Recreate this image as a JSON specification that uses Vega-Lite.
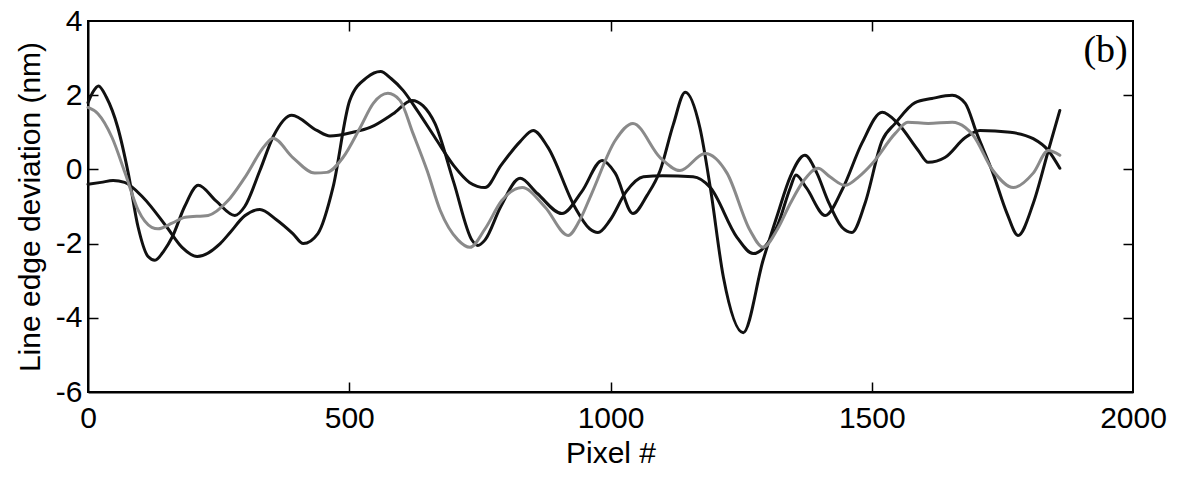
{
  "$schema": "https://vega.github.io/schema/vega-lite/v6.json",
  "width": 1045,
  "height": 371,
  "autosize": "none",
  "padding": {"left": 88, "top": 21, "right": 47, "bottom": 86},
  "background": "white",
  "config": {
    "view": {"stroke": "black", "strokeWidth": 2},
    "font": "Liberation Sans",
    "axis": {
      "grid": false,
      "domainColor": "black",
      "domainWidth": 2,
      "tickColor": "black",
      "tickWidth": 1.5,
      "tickSize": 10,
      "labelFont": "Liberation Sans",
      "labelFontSize": 30,
      "labelColor": "black",
      "titleFont": "Liberation Sans",
      "titleFontSize": 30,
      "titleFontWeight": "normal",
      "titleColor": "black"
    }
  },
  "datasets": {
    "curves": [
      {"pixel": 0, "dev": 1.8, "s": "P"},
      {"pixel": 10, "dev": 2.1, "s": "P"},
      {"pixel": 20, "dev": 2.25, "s": "P"},
      {"pixel": 35, "dev": 1.95, "s": "P"},
      {"pixel": 57, "dev": 1.13, "s": "P"},
      {"pixel": 77, "dev": -0.1, "s": "P"},
      {"pixel": 96, "dev": -1.56, "s": "P"},
      {"pixel": 115, "dev": -2.35, "s": "P"},
      {"pixel": 128, "dev": -2.45, "s": "P"},
      {"pixel": 145, "dev": -2.2, "s": "P"},
      {"pixel": 161, "dev": -1.83, "s": "P"},
      {"pixel": 185, "dev": -1.0, "s": "P"},
      {"pixel": 211, "dev": -0.43, "s": "P"},
      {"pixel": 245, "dev": -0.85, "s": "P"},
      {"pixel": 281, "dev": -1.24, "s": "P"},
      {"pixel": 300, "dev": -1.0, "s": "P"},
      {"pixel": 329, "dev": -0.03, "s": "P"},
      {"pixel": 355, "dev": 0.9, "s": "P"},
      {"pixel": 390, "dev": 1.46, "s": "P"},
      {"pixel": 438, "dev": 1.05, "s": "P"},
      {"pixel": 463, "dev": 0.9, "s": "P"},
      {"pixel": 507, "dev": 1.0, "s": "P"},
      {"pixel": 540, "dev": 1.13, "s": "P"},
      {"pixel": 584, "dev": 1.5, "s": "P"},
      {"pixel": 620, "dev": 1.86, "s": "P"},
      {"pixel": 641, "dev": 1.72, "s": "P"},
      {"pixel": 664, "dev": 1.24, "s": "P"},
      {"pixel": 700, "dev": -0.35, "s": "P"},
      {"pixel": 735, "dev": -1.91, "s": "P"},
      {"pixel": 746, "dev": -2.05, "s": "P"},
      {"pixel": 760, "dev": -1.9, "s": "P"},
      {"pixel": 790, "dev": -1.0, "s": "P"},
      {"pixel": 827, "dev": -0.24, "s": "P"},
      {"pixel": 860, "dev": -0.65, "s": "P"},
      {"pixel": 907, "dev": -1.19, "s": "P"},
      {"pixel": 945, "dev": -0.6, "s": "P"},
      {"pixel": 984, "dev": 0.24, "s": "P"},
      {"pixel": 1009, "dev": -0.1, "s": "P"},
      {"pixel": 1043, "dev": -1.19, "s": "P"},
      {"pixel": 1070, "dev": -0.7, "s": "P"},
      {"pixel": 1095, "dev": -0.03, "s": "P"},
      {"pixel": 1120, "dev": 1.2, "s": "P"},
      {"pixel": 1143, "dev": 2.08, "s": "P"},
      {"pixel": 1171, "dev": 1.13, "s": "P"},
      {"pixel": 1191, "dev": -0.49, "s": "P"},
      {"pixel": 1216, "dev": -2.9, "s": "P"},
      {"pixel": 1254, "dev": -4.4, "s": "P"},
      {"pixel": 1292, "dev": -2.45, "s": "P"},
      {"pixel": 1320, "dev": -1.2, "s": "P"},
      {"pixel": 1344, "dev": -0.2, "s": "P"},
      {"pixel": 1372, "dev": 0.38, "s": "P"},
      {"pixel": 1395, "dev": -0.1, "s": "P"},
      {"pixel": 1416, "dev": -0.84, "s": "P"},
      {"pixel": 1443, "dev": -1.56, "s": "P"},
      {"pixel": 1462, "dev": -1.7, "s": "P"},
      {"pixel": 1487, "dev": -0.92, "s": "P"},
      {"pixel": 1520, "dev": 0.78, "s": "P"},
      {"pixel": 1545, "dev": 1.24, "s": "P"},
      {"pixel": 1583, "dev": 1.8, "s": "P"},
      {"pixel": 1615, "dev": 1.91, "s": "P"},
      {"pixel": 1654, "dev": 2.0, "s": "P"},
      {"pixel": 1679, "dev": 1.78, "s": "P"},
      {"pixel": 1701, "dev": 0.97, "s": "P"},
      {"pixel": 1732, "dev": -0.1, "s": "P"},
      {"pixel": 1759, "dev": -1.19, "s": "P"},
      {"pixel": 1780, "dev": -1.78, "s": "P"},
      {"pixel": 1809, "dev": -0.92, "s": "P"},
      {"pixel": 1838, "dev": 0.51, "s": "P"},
      {"pixel": 1860, "dev": 1.59, "s": "P"},

      {"pixel": 0, "dev": -0.4, "s": "Q"},
      {"pixel": 25, "dev": -0.35, "s": "Q"},
      {"pixel": 48, "dev": -0.3, "s": "Q"},
      {"pixel": 70, "dev": -0.35, "s": "Q"},
      {"pixel": 105, "dev": -0.75, "s": "Q"},
      {"pixel": 151, "dev": -1.56, "s": "Q"},
      {"pixel": 180, "dev": -2.1, "s": "Q"},
      {"pixel": 209, "dev": -2.35, "s": "Q"},
      {"pixel": 253, "dev": -2.0, "s": "Q"},
      {"pixel": 272, "dev": -1.7, "s": "Q"},
      {"pixel": 300, "dev": -1.25, "s": "Q"},
      {"pixel": 329, "dev": -1.08, "s": "Q"},
      {"pixel": 360, "dev": -1.35, "s": "Q"},
      {"pixel": 392, "dev": -1.73, "s": "Q"},
      {"pixel": 412, "dev": -2.0, "s": "Q"},
      {"pixel": 440, "dev": -1.73, "s": "Q"},
      {"pixel": 469, "dev": -0.48, "s": "Q"},
      {"pixel": 501, "dev": 1.86, "s": "Q"},
      {"pixel": 534, "dev": 2.48, "s": "Q"},
      {"pixel": 560, "dev": 2.64, "s": "Q"},
      {"pixel": 580, "dev": 2.45, "s": "Q"},
      {"pixel": 603, "dev": 2.13, "s": "Q"},
      {"pixel": 630, "dev": 1.59, "s": "Q"},
      {"pixel": 664, "dev": 0.86, "s": "Q"},
      {"pixel": 700, "dev": 0.1, "s": "Q"},
      {"pixel": 730, "dev": -0.35, "s": "Q"},
      {"pixel": 760, "dev": -0.49, "s": "Q"},
      {"pixel": 790, "dev": 0.1, "s": "Q"},
      {"pixel": 827, "dev": 0.75, "s": "Q"},
      {"pixel": 852, "dev": 1.05, "s": "Q"},
      {"pixel": 880, "dev": 0.6, "s": "Q"},
      {"pixel": 932, "dev": -1.02, "s": "Q"},
      {"pixel": 960, "dev": -1.6, "s": "Q"},
      {"pixel": 976, "dev": -1.7, "s": "Q"},
      {"pixel": 999, "dev": -1.37, "s": "Q"},
      {"pixel": 1030, "dev": -0.6, "s": "Q"},
      {"pixel": 1063, "dev": -0.2, "s": "Q"},
      {"pixel": 1100, "dev": -0.17, "s": "Q"},
      {"pixel": 1158, "dev": -0.2, "s": "Q"},
      {"pixel": 1191, "dev": -0.49, "s": "Q"},
      {"pixel": 1242, "dev": -1.83, "s": "Q"},
      {"pixel": 1273, "dev": -2.27, "s": "Q"},
      {"pixel": 1300, "dev": -2.0, "s": "Q"},
      {"pixel": 1320, "dev": -1.5, "s": "Q"},
      {"pixel": 1344, "dev": -0.5, "s": "Q"},
      {"pixel": 1355, "dev": -0.15, "s": "Q"},
      {"pixel": 1375, "dev": -0.5, "s": "Q"},
      {"pixel": 1411, "dev": -1.24, "s": "Q"},
      {"pixel": 1445, "dev": -0.5, "s": "Q"},
      {"pixel": 1481, "dev": 0.7, "s": "Q"},
      {"pixel": 1520, "dev": 1.54, "s": "Q"},
      {"pixel": 1550, "dev": 1.24, "s": "Q"},
      {"pixel": 1589, "dev": 0.51, "s": "Q"},
      {"pixel": 1608, "dev": 0.19, "s": "Q"},
      {"pixel": 1640, "dev": 0.32, "s": "Q"},
      {"pixel": 1679, "dev": 0.86, "s": "Q"},
      {"pixel": 1707, "dev": 1.05, "s": "Q"},
      {"pixel": 1765, "dev": 1.0, "s": "Q"},
      {"pixel": 1809, "dev": 0.83, "s": "Q"},
      {"pixel": 1838, "dev": 0.51, "s": "Q"},
      {"pixel": 1860, "dev": 0.03, "s": "Q"},

      {"pixel": 0, "dev": 1.67, "s": "G"},
      {"pixel": 19, "dev": 1.5, "s": "G"},
      {"pixel": 46, "dev": 0.86, "s": "G"},
      {"pixel": 71, "dev": -0.1, "s": "G"},
      {"pixel": 96, "dev": -1.1, "s": "G"},
      {"pixel": 122, "dev": -1.56, "s": "G"},
      {"pixel": 134, "dev": -1.6, "s": "G"},
      {"pixel": 161, "dev": -1.45, "s": "G"},
      {"pixel": 186, "dev": -1.29, "s": "G"},
      {"pixel": 230, "dev": -1.24, "s": "G"},
      {"pixel": 268, "dev": -0.84, "s": "G"},
      {"pixel": 300, "dev": -0.22, "s": "G"},
      {"pixel": 339, "dev": 0.65, "s": "G"},
      {"pixel": 354, "dev": 0.84, "s": "G"},
      {"pixel": 392, "dev": 0.32, "s": "G"},
      {"pixel": 434, "dev": -0.1, "s": "G"},
      {"pixel": 457, "dev": -0.08, "s": "G"},
      {"pixel": 488, "dev": 0.32, "s": "G"},
      {"pixel": 521, "dev": 1.13, "s": "G"},
      {"pixel": 546, "dev": 1.78, "s": "G"},
      {"pixel": 574, "dev": 2.05, "s": "G"},
      {"pixel": 597, "dev": 1.86, "s": "G"},
      {"pixel": 622, "dev": 0.97, "s": "G"},
      {"pixel": 649, "dev": -0.03, "s": "G"},
      {"pixel": 674, "dev": -1.1, "s": "G"},
      {"pixel": 708, "dev": -1.9, "s": "G"},
      {"pixel": 731, "dev": -2.1, "s": "G"},
      {"pixel": 760, "dev": -1.6, "s": "G"},
      {"pixel": 792, "dev": -0.84, "s": "G"},
      {"pixel": 831, "dev": -0.49, "s": "G"},
      {"pixel": 875, "dev": -1.02, "s": "G"},
      {"pixel": 919, "dev": -1.78, "s": "G"},
      {"pixel": 940, "dev": -1.4, "s": "G"},
      {"pixel": 964, "dev": -0.65, "s": "G"},
      {"pixel": 1009, "dev": 0.78, "s": "G"},
      {"pixel": 1043, "dev": 1.24, "s": "G"},
      {"pixel": 1095, "dev": 0.32, "s": "G"},
      {"pixel": 1133, "dev": -0.03, "s": "G"},
      {"pixel": 1181, "dev": 0.43, "s": "G"},
      {"pixel": 1223, "dev": -0.1, "s": "G"},
      {"pixel": 1267, "dev": -1.64, "s": "G"},
      {"pixel": 1292, "dev": -2.1, "s": "G"},
      {"pixel": 1320, "dev": -1.6, "s": "G"},
      {"pixel": 1344, "dev": -0.92, "s": "G"},
      {"pixel": 1370, "dev": -0.3, "s": "G"},
      {"pixel": 1397, "dev": 0.03, "s": "G"},
      {"pixel": 1420, "dev": -0.2, "s": "G"},
      {"pixel": 1449, "dev": -0.43, "s": "G"},
      {"pixel": 1475, "dev": -0.2, "s": "G"},
      {"pixel": 1501, "dev": 0.16, "s": "G"},
      {"pixel": 1545, "dev": 0.97, "s": "G"},
      {"pixel": 1569, "dev": 1.27, "s": "G"},
      {"pixel": 1608, "dev": 1.24, "s": "G"},
      {"pixel": 1654, "dev": 1.27, "s": "G"},
      {"pixel": 1679, "dev": 1.13, "s": "G"},
      {"pixel": 1694, "dev": 0.92, "s": "G"},
      {"pixel": 1732, "dev": -0.03, "s": "G"},
      {"pixel": 1771, "dev": -0.49, "s": "G"},
      {"pixel": 1809, "dev": -0.1, "s": "G"},
      {"pixel": 1838, "dev": 0.51, "s": "G"},
      {"pixel": 1860, "dev": 0.38, "s": "G"}
    ]
  },
  "layer": [
    {
      "data": {"name": "curves"},
      "mark": {"type": "line", "interpolate": "monotone", "strokeCap": "round", "strokeJoin": "round"},
      "encoding": {
        "x": {
          "field": "pixel", "type": "quantitative",
          "scale": {"domain": [0, 2000], "nice": false},
          "axis": {"title": "Pixel #", "values": [0, 500, 1000, 1500, 2000], "ticks": false, "labelPadding": 11, "titlePadding": 5, "labelFlush": false, "format": "d"}
        },
        "y": {
          "field": "dev", "type": "quantitative",
          "scale": {"domain": [-6, 4], "nice": false, "zero": false},
          "axis": {"title": "Line edge deviation (nm)", "values": [-6, -4, -2, 0, 2, 4], "ticks": false, "labelPadding": 6, "titlePadding": 10, "labelExpr": "toString(datum.value)", "labelFlush": false}
        },
        "color": {
          "field": "s", "type": "nominal", "legend": null,
          "scale": {"domain": ["P", "Q", "G"], "range": ["#111111", "#111111", "#8a8a8a"]}
        },
        "strokeWidth": {
          "field": "s", "type": "nominal", "legend": null,
          "scale": {"domain": ["P", "Q", "G"], "range": [3, 3, 2.2]}
        },
        "order": {"field": "pixel", "type": "quantitative"}
      }
    },
    {
      "data": {"name": "curves"},
      "mark": {"type": "line", "opacity": 0},
      "encoding": {
        "x": {
          "field": "pixel", "type": "quantitative",
          "scale": {"domain": [0, 2000], "nice": false},
          "axis": {"orient": "bottom", "offset": -10, "domain": false, "title": null, "labels": false, "values": [500, 1000, 1500]}
        },
        "y": {
          "field": "dev", "type": "quantitative",
          "scale": {"domain": [-6, 4], "nice": false, "zero": false},
          "axis": {"orient": "left", "offset": -10, "domain": false, "title": null, "labels": false, "values": [-4, -2, 0, 2]}
        },
        "detail": {"field": "s", "type": "nominal"}
      }
    },
    {
      "data": {"name": "curves"},
      "mark": {"type": "line", "opacity": 0},
      "encoding": {
        "x": {
          "field": "pixel", "type": "quantitative",
          "scale": {"domain": [0, 2000], "nice": false},
          "axis": {"orient": "top", "offset": -10, "domain": false, "title": null, "labels": false, "values": [500, 1000, 1500]}
        },
        "y": {
          "field": "dev", "type": "quantitative",
          "scale": {"domain": [-6, 4], "nice": false, "zero": false},
          "axis": {"orient": "right", "offset": -10, "domain": false, "title": null, "labels": false, "values": [-4, -2, 0, 2]}
        },
        "detail": {"field": "s", "type": "nominal"}
      }
    },
    {
      "data": {"values": [{"label": "(b)"}]},
      "mark": {"type": "text", "font": "Liberation Serif", "fontSize": 38, "align": "right", "baseline": "alphabetic", "color": "black"},
      "encoding": {
        "x": {"datum": 1990, "type": "quantitative", "axis": null},
        "y": {"datum": 2.9, "type": "quantitative", "axis": null},
        "text": {"field": "label"}
      }
    }
  ],
  "resolve": {"axis": {"x": "independent", "y": "independent"}}
}
